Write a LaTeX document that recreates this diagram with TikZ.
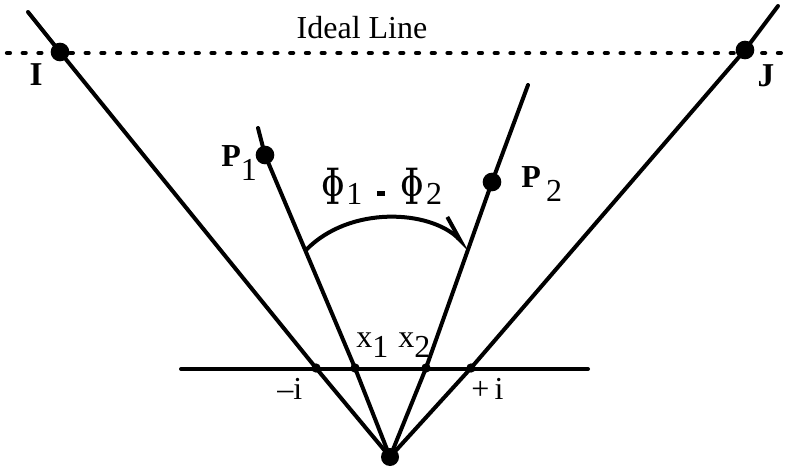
\documentclass[tikz,border=0pt]{standalone}
\usepackage{fontspec}
\setmainfont{Liberation Serif}
\usetikzlibrary{arrows.meta}
\newcommand{\bigphi}{\scalebox{0.88}[1.6]{\fontencoding{OT1}\fontfamily{cmr}\fontseries{bx}\fontshape{n}\fontsize{24.88}{26}\selectfont\char8}}
\begin{document}
\begin{tikzpicture}[x=0.75pt,y=-0.75pt,
  ln/.style={line width=3pt, line cap=round},
  bigdot/.style={circle, fill=black, inner sep=0pt, minimum size=14pt},
  smalldot/.style={circle, fill=black, inner sep=0pt, minimum size=7pt},
  lbl/.style={font=\fontsize{24}{28}\selectfont, inner sep=0pt},
  blbl/.style={font=\fontsize{25}{28}\selectfont\bfseries, inner sep=0pt}]
\useasboundingbox (0,0) rectangle (792,470);
% points
\node[bigdot, minimum size=13.5pt] (O) at (390,457) {};
\node[smalldot] (mi) at (316,368) {};
\node[smalldot] (x1) at (355,368) {};
\node[smalldot] (x2) at (426,368) {};
\node[smalldot] (pi) at (471,368) {};
\node[bigdot] (I) at (60,52) {};
\node[bigdot] (J) at (745,50) {};
\node[bigdot] (P1) at (265,155) {};
\node[bigdot] (P2) at (492,182) {};
\coordinate (TL) at (28,12);
\coordinate (TR) at (778,6);
\coordinate (T1) at (258,128);
\coordinate (T2) at (528,85);
\coordinate (HL) at (181,369);
\coordinate (HR) at (588,369);
\coordinate (DL) at (7,53);
\coordinate (DR) at (792,53);
% lines
\draw[line width=3.2pt, dash pattern=on 2.2pt off 9.6pt, line cap=round] (DL) -- (DR);
\draw[ln] (HL) -- (HR);
\draw[ln] (O.center) -- (mi.center) -- (I.center) -- (TL);
\draw[ln] (O.center) -- (pi.center) -- (J.center) -- (TR);
\draw[ln] (O.center) -- (x1.center) -- (P1.center) -- (T1);
\draw[ln] (O.center) -- (x2.center) -- (P2.center) -- (T2);
% arc
\coordinate (A1) at (306,250);
\coordinate (A2) at (470,250);
\draw[line width=3pt, -{Straight Barb[harpoon, length=19pt, width=11pt, line width=3pt]}]
  (A1) .. controls (350,205) and (430,210) .. (A2);
% labels
\node[lbl] (IL) at (362,28) {Ideal Line};
\node[blbl] (Il) at (36,75) {I};
\node[blbl] (Jl) at (766,76) {J};
\node[lbl, anchor=base west] (P1l) at (221,167) {\textbf{P}\raisebox{-10pt}{1}};
\node[lbl, anchor=base west] (P2l) at (521,188) {\textbf{P}\,\raisebox{-10pt}{2}};
\node[lbl, anchor=base west] (phi) at (321,205) {\bigphi\hspace{1pt}1\hspace{11pt}\raisebox{7pt}{\rule{6pt}{3.5pt}}\hspace{12pt}\bigphi\hspace{1pt}2};
\node[lbl, anchor=base west] (x1l) at (356,347) {x\raisebox{-8pt}{1}};
\node[lbl, anchor=base west] (x2l) at (398,347) {x\raisebox{-8pt}{2}};
\node[lbl, anchor=base west] (mil) at (277,399) {–i};
\node[lbl, anchor=base west] (pil) at (471,399) {+\,i};
\end{tikzpicture}
\end{document}
